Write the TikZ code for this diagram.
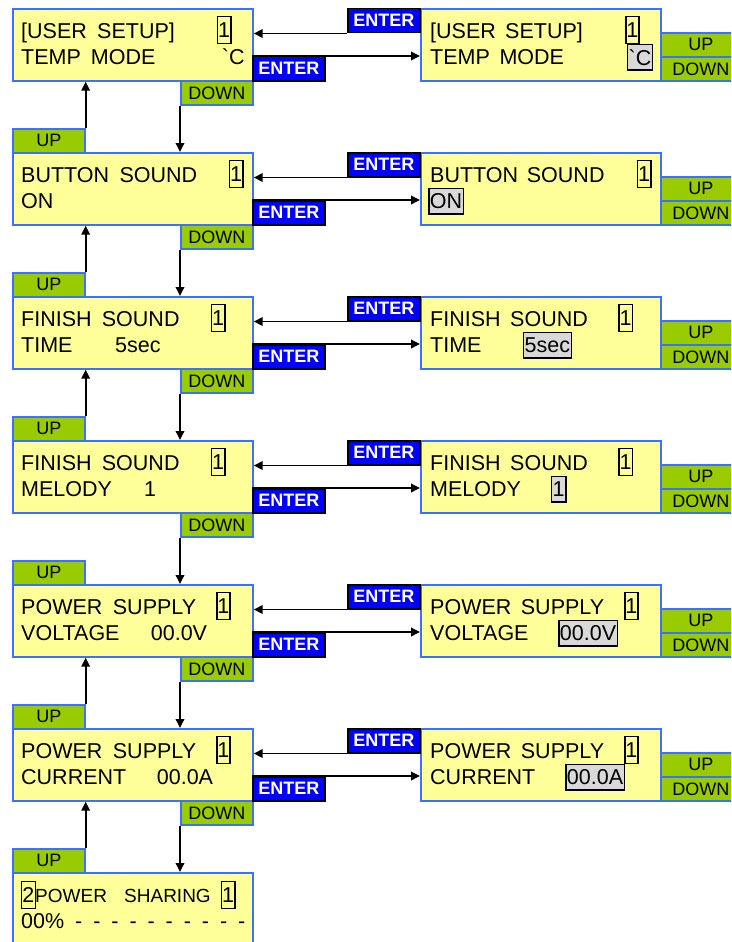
\documentclass[tikz,border=0pt]{standalone}
\usepackage{fontspec}
\newfontfamily\lcd{Liberation Sans}
\usetikzlibrary{arrows.meta}
\definecolor{lcdy}{HTML}{FFFF99}
\definecolor{bord}{HTML}{3F6FFF}
\definecolor{grn}{HTML}{99CC00}
\definecolor{entb}{HTML}{0000FF}
\definecolor{hil}{HTML}{D9D9D9}
\newcommand\W[4]{\node[txt] (#1) at (#2,#3) {#4};}
\begin{document}
\begin{tikzpicture}[x=1pt,y=-1pt,
 screen/.style={draw=bord,fill=lcdy,line width=1.7pt,minimum width=240pt,minimum height=72pt,inner sep=0pt,anchor=north west},
 btn/.style={draw=bord,fill=grn,line width=1.7pt,minimum width=72pt,minimum height=24pt,inner sep=0pt,anchor=north west,font=\lcd\fontsize{18}{18}\selectfont},
 rbtn/.style={btn,minimum width=80pt,text width=71pt,align=center},
 ent/.style={draw=black,fill=entb,line width=1.5pt,minimum width=72pt,minimum height=24pt,inner sep=0pt,anchor=north west,text=white,font=\lcd\bfseries\fontsize{18}{18}\selectfont},
 txt/.style={anchor=base west,inner sep=0pt,font=\lcd\fontsize{21.5}{21.5}\selectfont},
 stxt/.style={txt,font=\lcd\fontsize{19}{19}\selectfont},
 one/.style={draw=black,line width=1.5pt,minimum width=13.3pt,minimum height=27pt,inner sep=0pt,anchor=west,font=\lcd\fontsize{21.5}{21.5}\selectfont},
 hl/.style={draw=black,fill=hil,line width=1.5pt,minimum height=25.5pt,inner xsep=1.2pt,inner ysep=0pt,anchor=west,font=\lcd\fontsize{21.5}{21.5}\selectfont},
 arr/.style={line width=1.8pt,-{Triangle[length=9pt,width=8.5pt]}}
]
\fill[white] (0,0) rectangle (731,942);
\useasboundingbox (0,0) rectangle (731,942);
\clip (0,0) rectangle (731,942);

% ---------- screens ----------
\foreach \k/\t in {1/8,2/152,3/296,4/440,5/584,6/728}{
  \node[screen] (L\k) at (12,\t) {};
  \node[screen] (R\k) at (420,\t) {};
  \node[btn] (dn\k) at (180,\t+72) {DOWN};
  \node[rbtn] (ru\k) at (660,\t+24) {UP};
  \node[rbtn] (rd\k) at (660,\t+48) {DOWN};
  \node[ent] (eu\k) at (347,\t) {ENTER};
  \node[ent] (el\k) at (252,\t+48) {ENTER};
}
\node[screen,minimum height=90pt] (L7) at (12,872) {};
\foreach \k/\t in {2/152,3/296,4/440,5/584,6/728,7/872}{
  \node[btn] (up\k) at (12,\t-24) {UP};
}

% ---------- row 1 ----------
\W{L1a}{21}{38.5}{[USER}
\W{L1b}{97}{38.5}{SETUP]}
\node[one] (L1n) at (216.7,30) {1};
\W{L1c}{21}{64}{TEMP}
\W{L1d}{90.7}{64}{MODE}
\W{L1e}{221.7}{64}{`C}
\W{R1a}{430}{38.5}{[USER}
\W{R1b}{505}{38.5}{SETUP]}
\node[one] (R1n) at (625,30) {1};
\W{R1c}{430}{64}{TEMP}
\W{R1d}{499.3}{64}{MODE}
\node[hl] (R1h) at (626.7,57.25) {`C};

% ---------- row 2 ----------
\W{L2a}{21}{182.5}{BUTTON}
\W{L2b}{119.3}{182.5}{SOUND}
\node[one] (L2n) at (228.7,174) {1};
\W{L2c}{21}{208}{ON}
\W{R2a}{430}{182.5}{BUTTON}
\W{R2b}{526.7}{182.5}{SOUND}
\node[one] (R2n) at (636.7,174) {1};
\node[hl] (R2h) at (428,201.25) {ON};

% ---------- row 3 ----------
\W{L3a}{21}{326.5}{FINISH}
\W{L3b}{101.7}{326.5}{SOUND}
\node[one] (L3n) at (210.7,318) {1};
\W{L3c}{21}{352}{TIME}
\W{L3d}{115}{352}{5sec}
\W{R3a}{430}{326.5}{FINISH}
\W{R3b}{510}{326.5}{SOUND}
\node[one] (R3n) at (618.3,318) {1};
\W{R3c}{430}{352}{TIME}
\node[hl] (R3h) at (522.7,345.25) {5sec};

% ---------- row 4 ----------
\W{L4a}{21}{470.5}{FINISH}
\W{L4b}{101.7}{470.5}{SOUND}
\node[one] (L4n) at (210.7,462) {1};
\W{L4c}{21}{496}{MELODY}
\W{L4d}{144}{496}{1}
\W{R4a}{430}{470.5}{FINISH}
\W{R4b}{510}{470.5}{SOUND}
\node[one] (R4n) at (618.3,462) {1};
\W{R4c}{430}{496}{MELODY}
\node[hl] (R4h) at (550.7,489.25) {1};

% ---------- row 5 ----------
\W{L5a}{21}{614.5}{POWER}
\W{L5b}{112.7}{614.5}{SUPPLY}
\node[one] (L5n) at (216,606) {1};
\W{L5c}{21}{640}{VOLTAGE}
\W{L5d}{150.7}{640}{00.0V}
\W{R5a}{430}{614.5}{POWER}
\W{R5b}{520.7}{614.5}{SUPPLY}
\node[one] (R5n) at (624,606) {1};
\W{R5c}{430}{640}{VOLTAGE}
\node[hl] (R5h) at (558,633.25) {00.0V};

% ---------- row 6 ----------
\W{L6a}{21}{758.5}{POWER}
\W{L6b}{112.7}{758.5}{SUPPLY}
\node[one] (L6n) at (216,750) {1};
\W{L6c}{21}{784}{CURRENT}
\W{L6d}{156.7}{784}{00.0A}
\W{R6a}{430}{758.5}{POWER}
\W{R6b}{520.7}{758.5}{SUPPLY}
\node[one] (R6n) at (624,750) {1};
\W{R6c}{430}{784}{CURRENT}
\node[hl] (R6h) at (565,777.25) {00.0A};

% ---------- row 7 ----------
\node[one,minimum width=14pt] (L7m) at (20.7,894.8) {2};
\node[stxt] (L7a) at (35,902) {POWER};
\node[stxt] (L7b) at (124,902) {SHARING};
\node[one] (L7n) at (220.7,894.8) {1};
\W{L7c}{21}{928}{00\%}
\foreach \i in {0,...,9}{
  \node[txt] (d\i) at (75+\i*18.1,928) {-};
}

% ---------- connectors ----------
\foreach \k/\n in {1/2,2/3,3/4,4/5,5/6,6/7}{
  \draw[arr] (dn\k.south west) -- (dn\k.south west |- L\n.north);
}
\foreach \k/\p in {2/1,3/2,4/3,6/5,7/6}{
  \draw[arr] (up\k.north east) -- (up\k.north east |- L\p.south);
}
\foreach \k in {1,...,6}{
  \draw[arr] (eu\k.south west) -- (eu\k.south west -| L\k.east);
  \draw[arr] (el\k.north west) -- (el\k.north west -| R\k.west);
}
\end{tikzpicture}
\end{document}
